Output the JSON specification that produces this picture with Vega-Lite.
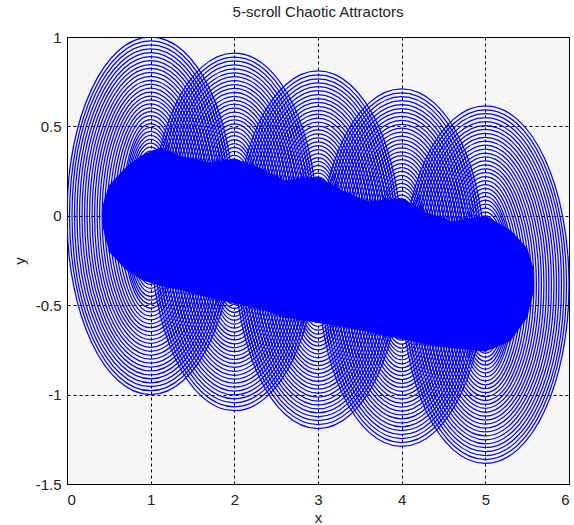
{
  "$schema": "https://vega.github.io/schema/vega-lite/v6.json",
  "autosize": {"type": "none"},
  "padding": {"left": 67, "top": 37, "right": 5, "bottom": 41},
  "width": 502,
  "height": 447,
  "background": "white",
  "title": {"text": "5-scroll Chaotic Attractors", "fontSize": 15, "font": "Liberation Sans", "fontWeight": "normal", "color": "#222222", "offset": 10},
  "config": {
    "view": {"fill": "#f6f6f6", "stroke": "#000000", "strokeWidth": 1},
    "axis": {
      "zindex": 1,
      "grid": true,
      "gridColor": "#000000",
      "gridOpacity": 1,
      "gridDash": [3, 3],
      "gridWidth": 1,
      "domain": false,
      "ticks": false,
      "labelFont": "Liberation Sans",
      "labelFontSize": 15,
      "labelColor": "#222222",
      "titleFont": "Liberation Sans",
      "titleFontSize": 15,
      "titleFontWeight": "normal",
      "titleColor": "#222222",
      "labelExpr": "'' + datum.value"
    }
  },
  "datasets": {
    "core": [
      {"x": 0.42, "lo": -0.05, "hi": 0.05},
      {"x": 0.5, "lo": -0.2, "hi": 0.17},
      {"x": 0.7, "lo": -0.3, "hi": 0.27},
      {"x": 0.9, "lo": -0.36, "hi": 0.34},
      {"x": 1.1, "lo": -0.39, "hi": 0.38},
      {"x": 1.4, "lo": -0.42, "hi": 0.33},
      {"x": 1.7, "lo": -0.46, "hi": 0.3},
      {"x": 2.0, "lo": -0.49, "hi": 0.32},
      {"x": 2.3, "lo": -0.52, "hi": 0.27},
      {"x": 2.6, "lo": -0.57, "hi": 0.2},
      {"x": 3.0, "lo": -0.6, "hi": 0.22},
      {"x": 3.3, "lo": -0.62, "hi": 0.14},
      {"x": 3.6, "lo": -0.65, "hi": 0.08},
      {"x": 4.0, "lo": -0.69, "hi": 0.1},
      {"x": 4.3, "lo": -0.72, "hi": 0.02},
      {"x": 4.6, "lo": -0.74, "hi": -0.03},
      {"x": 5.0, "lo": -0.76, "hi": 0.0},
      {"x": 5.3, "lo": -0.7, "hi": -0.08},
      {"x": 5.5, "lo": -0.57, "hi": -0.18},
      {"x": 5.58, "lo": -0.42, "hi": -0.3}
    ],
    "rings": [
      {"cx":1,"cy":0,"i":0,"b":1},{"cx":1,"cy":0,"i":1,"b":0.978},{"cx":1,"cy":0,"i":2,"b":0.956},{"cx":1,"cy":0,"i":3,"b":0.934},{"cx":1,"cy":0,"i":4,"b":0.912},{"cx":1,"cy":0,"i":5,"b":0.89},{"cx":1,"cy":0,"i":6,"b":0.868},{"cx":1,"cy":0,"i":7,"b":0.846},{"cx":1,"cy":0,"i":8,"b":0.824},{"cx":1,"cy":0,"i":9,"b":0.802},{"cx":1,"cy":0,"i":10,"b":0.78},{"cx":1,"cy":0,"i":11,"b":0.758},{"cx":1,"cy":0,"i":12,"b":0.736},{"cx":1,"cy":0,"i":13,"b":0.714},{"cx":1,"cy":0,"i":14,"b":0.692},{"cx":1,"cy":0,"i":15,"b":0.67},{"cx":1,"cy":0,"i":16,"b":0.648},{"cx":1,"cy":0,"i":17,"b":0.626},{"cx":1,"cy":0,"i":18,"b":0.604},{"cx":1,"cy":0,"i":19,"b":0.582},{"cx":1,"cy":0,"i":20,"b":0.56},{"cx":1,"cy":0,"i":21,"b":0.538},{"cx":1,"cy":0,"i":22,"b":0.516},{"cx":1,"cy":0,"i":23,"b":0.494},{"cx":1,"cy":0,"i":24,"b":0.472},{"cx":1,"cy":0,"i":25,"b":0.45},{"cx":1,"cy":0,"i":26,"b":0.428},{"cx":1,"cy":0,"i":27,"b":0.406},{"cx":1,"cy":0,"i":28,"b":0.384},{"cx":1,"cy":0,"i":29,"b":0.362},{"cx":1,"cy":0,"i":30,"b":0.34},{"cx":1,"cy":0,"i":31,"b":0.318},{"cx":1,"cy":0,"i":32,"b":0.296},{"cx":1,"cy":0,"i":33,"b":0.274},{"cx":1,"cy":0,"i":34,"b":0.252},{"cx":1,"cy":0,"i":35,"b":0.23},{"cx":1,"cy":0,"i":36,"b":0.208},{"cx":1,"cy":0,"i":37,"b":0.186},{"cx":1,"cy":0,"i":38,"b":0.164},{"cx":1,"cy":0,"i":39,"b":0.142},{"cx":1,"cy":0,"i":40,"b":0.12},
      {"cx":2,"cy":-0.09,"i":0,"b":1},{"cx":2,"cy":-0.09,"i":1,"b":0.978},{"cx":2,"cy":-0.09,"i":2,"b":0.956},{"cx":2,"cy":-0.09,"i":3,"b":0.934},{"cx":2,"cy":-0.09,"i":4,"b":0.912},{"cx":2,"cy":-0.09,"i":5,"b":0.89},{"cx":2,"cy":-0.09,"i":6,"b":0.868},{"cx":2,"cy":-0.09,"i":7,"b":0.846},{"cx":2,"cy":-0.09,"i":8,"b":0.824},{"cx":2,"cy":-0.09,"i":9,"b":0.802},{"cx":2,"cy":-0.09,"i":10,"b":0.78},{"cx":2,"cy":-0.09,"i":11,"b":0.758},{"cx":2,"cy":-0.09,"i":12,"b":0.736},{"cx":2,"cy":-0.09,"i":13,"b":0.714},{"cx":2,"cy":-0.09,"i":14,"b":0.692},{"cx":2,"cy":-0.09,"i":15,"b":0.67},{"cx":2,"cy":-0.09,"i":16,"b":0.648},{"cx":2,"cy":-0.09,"i":17,"b":0.626},{"cx":2,"cy":-0.09,"i":18,"b":0.604},{"cx":2,"cy":-0.09,"i":19,"b":0.582},{"cx":2,"cy":-0.09,"i":20,"b":0.56},{"cx":2,"cy":-0.09,"i":21,"b":0.538},{"cx":2,"cy":-0.09,"i":22,"b":0.516},{"cx":2,"cy":-0.09,"i":23,"b":0.494},{"cx":2,"cy":-0.09,"i":24,"b":0.472},{"cx":2,"cy":-0.09,"i":25,"b":0.45},{"cx":2,"cy":-0.09,"i":26,"b":0.428},{"cx":2,"cy":-0.09,"i":27,"b":0.406},{"cx":2,"cy":-0.09,"i":28,"b":0.384},{"cx":2,"cy":-0.09,"i":29,"b":0.362},{"cx":2,"cy":-0.09,"i":30,"b":0.34},{"cx":2,"cy":-0.09,"i":31,"b":0.318},{"cx":2,"cy":-0.09,"i":32,"b":0.296},{"cx":2,"cy":-0.09,"i":33,"b":0.274},{"cx":2,"cy":-0.09,"i":34,"b":0.252},{"cx":2,"cy":-0.09,"i":35,"b":0.23},{"cx":2,"cy":-0.09,"i":36,"b":0.208},{"cx":2,"cy":-0.09,"i":37,"b":0.186},{"cx":2,"cy":-0.09,"i":38,"b":0.164},{"cx":2,"cy":-0.09,"i":39,"b":0.142},{"cx":2,"cy":-0.09,"i":40,"b":0.12},
      {"cx":3,"cy":-0.19,"i":0,"b":1},{"cx":3,"cy":-0.19,"i":1,"b":0.978},{"cx":3,"cy":-0.19,"i":2,"b":0.956},{"cx":3,"cy":-0.19,"i":3,"b":0.934},{"cx":3,"cy":-0.19,"i":4,"b":0.912},{"cx":3,"cy":-0.19,"i":5,"b":0.89},{"cx":3,"cy":-0.19,"i":6,"b":0.868},{"cx":3,"cy":-0.19,"i":7,"b":0.846},{"cx":3,"cy":-0.19,"i":8,"b":0.824},{"cx":3,"cy":-0.19,"i":9,"b":0.802},{"cx":3,"cy":-0.19,"i":10,"b":0.78},{"cx":3,"cy":-0.19,"i":11,"b":0.758},{"cx":3,"cy":-0.19,"i":12,"b":0.736},{"cx":3,"cy":-0.19,"i":13,"b":0.714},{"cx":3,"cy":-0.19,"i":14,"b":0.692},{"cx":3,"cy":-0.19,"i":15,"b":0.67},{"cx":3,"cy":-0.19,"i":16,"b":0.648},{"cx":3,"cy":-0.19,"i":17,"b":0.626},{"cx":3,"cy":-0.19,"i":18,"b":0.604},{"cx":3,"cy":-0.19,"i":19,"b":0.582},{"cx":3,"cy":-0.19,"i":20,"b":0.56},{"cx":3,"cy":-0.19,"i":21,"b":0.538},{"cx":3,"cy":-0.19,"i":22,"b":0.516},{"cx":3,"cy":-0.19,"i":23,"b":0.494},{"cx":3,"cy":-0.19,"i":24,"b":0.472},{"cx":3,"cy":-0.19,"i":25,"b":0.45},{"cx":3,"cy":-0.19,"i":26,"b":0.428},{"cx":3,"cy":-0.19,"i":27,"b":0.406},{"cx":3,"cy":-0.19,"i":28,"b":0.384},{"cx":3,"cy":-0.19,"i":29,"b":0.362},{"cx":3,"cy":-0.19,"i":30,"b":0.34},{"cx":3,"cy":-0.19,"i":31,"b":0.318},{"cx":3,"cy":-0.19,"i":32,"b":0.296},{"cx":3,"cy":-0.19,"i":33,"b":0.274},{"cx":3,"cy":-0.19,"i":34,"b":0.252},{"cx":3,"cy":-0.19,"i":35,"b":0.23},{"cx":3,"cy":-0.19,"i":36,"b":0.208},{"cx":3,"cy":-0.19,"i":37,"b":0.186},{"cx":3,"cy":-0.19,"i":38,"b":0.164},{"cx":3,"cy":-0.19,"i":39,"b":0.142},{"cx":3,"cy":-0.19,"i":40,"b":0.12},
      {"cx":4,"cy":-0.29,"i":0,"b":1},{"cx":4,"cy":-0.29,"i":1,"b":0.978},{"cx":4,"cy":-0.29,"i":2,"b":0.956},{"cx":4,"cy":-0.29,"i":3,"b":0.934},{"cx":4,"cy":-0.29,"i":4,"b":0.912},{"cx":4,"cy":-0.29,"i":5,"b":0.89},{"cx":4,"cy":-0.29,"i":6,"b":0.868},{"cx":4,"cy":-0.29,"i":7,"b":0.846},{"cx":4,"cy":-0.29,"i":8,"b":0.824},{"cx":4,"cy":-0.29,"i":9,"b":0.802},{"cx":4,"cy":-0.29,"i":10,"b":0.78},{"cx":4,"cy":-0.29,"i":11,"b":0.758},{"cx":4,"cy":-0.29,"i":12,"b":0.736},{"cx":4,"cy":-0.29,"i":13,"b":0.714},{"cx":4,"cy":-0.29,"i":14,"b":0.692},{"cx":4,"cy":-0.29,"i":15,"b":0.67},{"cx":4,"cy":-0.29,"i":16,"b":0.648},{"cx":4,"cy":-0.29,"i":17,"b":0.626},{"cx":4,"cy":-0.29,"i":18,"b":0.604},{"cx":4,"cy":-0.29,"i":19,"b":0.582},{"cx":4,"cy":-0.29,"i":20,"b":0.56},{"cx":4,"cy":-0.29,"i":21,"b":0.538},{"cx":4,"cy":-0.29,"i":22,"b":0.516},{"cx":4,"cy":-0.29,"i":23,"b":0.494},{"cx":4,"cy":-0.29,"i":24,"b":0.472},{"cx":4,"cy":-0.29,"i":25,"b":0.45},{"cx":4,"cy":-0.29,"i":26,"b":0.428},{"cx":4,"cy":-0.29,"i":27,"b":0.406},{"cx":4,"cy":-0.29,"i":28,"b":0.384},{"cx":4,"cy":-0.29,"i":29,"b":0.362},{"cx":4,"cy":-0.29,"i":30,"b":0.34},{"cx":4,"cy":-0.29,"i":31,"b":0.318},{"cx":4,"cy":-0.29,"i":32,"b":0.296},{"cx":4,"cy":-0.29,"i":33,"b":0.274},{"cx":4,"cy":-0.29,"i":34,"b":0.252},{"cx":4,"cy":-0.29,"i":35,"b":0.23},{"cx":4,"cy":-0.29,"i":36,"b":0.208},{"cx":4,"cy":-0.29,"i":37,"b":0.186},{"cx":4,"cy":-0.29,"i":38,"b":0.164},{"cx":4,"cy":-0.29,"i":39,"b":0.142},{"cx":4,"cy":-0.29,"i":40,"b":0.12},
      {"cx":5,"cy":-0.385,"i":0,"b":1},{"cx":5,"cy":-0.385,"i":1,"b":0.978},{"cx":5,"cy":-0.385,"i":2,"b":0.956},{"cx":5,"cy":-0.385,"i":3,"b":0.934},{"cx":5,"cy":-0.385,"i":4,"b":0.912},{"cx":5,"cy":-0.385,"i":5,"b":0.89},{"cx":5,"cy":-0.385,"i":6,"b":0.868},{"cx":5,"cy":-0.385,"i":7,"b":0.846},{"cx":5,"cy":-0.385,"i":8,"b":0.824},{"cx":5,"cy":-0.385,"i":9,"b":0.802},{"cx":5,"cy":-0.385,"i":10,"b":0.78},{"cx":5,"cy":-0.385,"i":11,"b":0.758},{"cx":5,"cy":-0.385,"i":12,"b":0.736},{"cx":5,"cy":-0.385,"i":13,"b":0.714},{"cx":5,"cy":-0.385,"i":14,"b":0.692},{"cx":5,"cy":-0.385,"i":15,"b":0.67},{"cx":5,"cy":-0.385,"i":16,"b":0.648},{"cx":5,"cy":-0.385,"i":17,"b":0.626},{"cx":5,"cy":-0.385,"i":18,"b":0.604},{"cx":5,"cy":-0.385,"i":19,"b":0.582},{"cx":5,"cy":-0.385,"i":20,"b":0.56},{"cx":5,"cy":-0.385,"i":21,"b":0.538},{"cx":5,"cy":-0.385,"i":22,"b":0.516},{"cx":5,"cy":-0.385,"i":23,"b":0.494},{"cx":5,"cy":-0.385,"i":24,"b":0.472},{"cx":5,"cy":-0.385,"i":25,"b":0.45},{"cx":5,"cy":-0.385,"i":26,"b":0.428},{"cx":5,"cy":-0.385,"i":27,"b":0.406},{"cx":5,"cy":-0.385,"i":28,"b":0.384},{"cx":5,"cy":-0.385,"i":29,"b":0.362},{"cx":5,"cy":-0.385,"i":30,"b":0.34},{"cx":5,"cy":-0.385,"i":31,"b":0.318},{"cx":5,"cy":-0.385,"i":32,"b":0.296},{"cx":5,"cy":-0.385,"i":33,"b":0.274},{"cx":5,"cy":-0.385,"i":34,"b":0.252},{"cx":5,"cy":-0.385,"i":35,"b":0.23},{"cx":5,"cy":-0.385,"i":36,"b":0.208},{"cx":5,"cy":-0.385,"i":37,"b":0.186},{"cx":5,"cy":-0.385,"i":38,"b":0.164},{"cx":5,"cy":-0.385,"i":39,"b":0.142},{"cx":5,"cy":-0.385,"i":40,"b":0.12}
    ]
  },
  "layer": [
    {
      "data": {"name": "core"},
      "mark": {"type": "area", "color": "#0000ff", "opacity": 1, "clip": true},
      "encoding": {
        "x": {"field": "x", "type": "quantitative", "scale": {"domain": [0, 6], "nice": false, "zero": false}, "axis": {"values": [0, 1, 2, 3, 4, 5, 6], "title": "x", "labelPadding": 8, "titlePadding": 3}},
        "y": {"field": "lo", "type": "quantitative", "scale": {"domain": [-1.5, 1], "nice": false, "zero": false}, "axis": {"values": [-1.5, -1, -0.5, 0, 0.5, 1], "title": "y", "labelPadding": 6, "titlePadding": 8}},
        "y2": {"field": "hi"}
      }
    },
    {
      "data": {"name": "rings"},
      "mark": {"type": "point", "filled": false, "color": "#0000ff", "strokeWidth": 1.25, "opacity": 1, "clip": true},
      "encoding": {
        "x": {"field": "cx", "type": "quantitative"},
        "y": {"field": "cy", "type": "quantitative"},
        "size": {"field": "b", "type": "quantitative", "scale": {"type": "pow", "exponent": 2, "domain": [0, 1], "range": [0, 127878]}, "legend": null},
        "shape": {"field": "i", "type": "nominal", "legend": null, "scale": {
          "domain": [0,1,2,3,4,5,6,7,8,9,10,11,12,13,14,15,16,17,18,19,20,21,22,23,24,25,26,27,28,29,30,31,32,33,34,35,36,37,38,39,40],
          "range": [
            "M0,-1A0.468,1 0 1,1 0,1A0.468,1 0 1,1 0,-1Z",
            "M0,-1A0.4642,1 0 1,1 0,1A0.4642,1 0 1,1 0,-1Z",
            "M0,-1A0.4602,1 0 1,1 0,1A0.4602,1 0 1,1 0,-1Z",
            "M0,-1A0.456,1 0 1,1 0,1A0.456,1 0 1,1 0,-1Z",
            "M0,-1A0.4516,1 0 1,1 0,1A0.4516,1 0 1,1 0,-1Z",
            "M0,-1A0.447,1 0 1,1 0,1A0.447,1 0 1,1 0,-1Z",
            "M0,-1A0.4421,1 0 1,1 0,1A0.4421,1 0 1,1 0,-1Z",
            "M0,-1A0.437,1 0 1,1 0,1A0.437,1 0 1,1 0,-1Z",
            "M0,-1A0.4316,1 0 1,1 0,1A0.4316,1 0 1,1 0,-1Z",
            "M0,-1A0.426,1 0 1,1 0,1A0.426,1 0 1,1 0,-1Z",
            "M0,-1A0.42,1 0 1,1 0,1A0.42,1 0 1,1 0,-1Z",
            "M0,-1A0.4137,1 0 1,1 0,1A0.4137,1 0 1,1 0,-1Z",
            "M0,-1A0.407,1 0 1,1 0,1A0.407,1 0 1,1 0,-1Z",
            "M0,-1A0.3998,1 0 1,1 0,1A0.3998,1 0 1,1 0,-1Z",
            "M0,-1A0.3923,1 0 1,1 0,1A0.3923,1 0 1,1 0,-1Z",
            "M0,-1A0.3842,1 0 1,1 0,1A0.3842,1 0 1,1 0,-1Z",
            "M0,-1A0.3756,1 0 1,1 0,1A0.3756,1 0 1,1 0,-1Z",
            "M0,-1A0.3663,1 0 1,1 0,1A0.3663,1 0 1,1 0,-1Z",
            "M0,-1A0.3564,1 0 1,1 0,1A0.3564,1 0 1,1 0,-1Z",
            "M0,-1A0.3458,1 0 1,1 0,1A0.3458,1 0 1,1 0,-1Z",
            "M0,-1A0.3343,1 0 1,1 0,1A0.3343,1 0 1,1 0,-1Z",
            "M0,-1A0.3219,1 0 1,1 0,1A0.3219,1 0 1,1 0,-1Z",
            "M0,-1A0.3084,1 0 1,1 0,1A0.3084,1 0 1,1 0,-1Z",
            "M0,-1A0.3084,1 0 1,1 0,1A0.3084,1 0 1,1 0,-1Z",
            "M0,-1A0.3084,1 0 1,1 0,1A0.3084,1 0 1,1 0,-1Z",
            "M0,-1A0.3084,1 0 1,1 0,1A0.3084,1 0 1,1 0,-1Z",
            "M0,-1A0.3084,1 0 1,1 0,1A0.3084,1 0 1,1 0,-1Z",
            "M0,-1A0.3084,1 0 1,1 0,1A0.3084,1 0 1,1 0,-1Z",
            "M0,-1A0.3084,1 0 1,1 0,1A0.3084,1 0 1,1 0,-1Z",
            "M0,-1A0.3084,1 0 1,1 0,1A0.3084,1 0 1,1 0,-1Z",
            "M0,-1A0.3084,1 0 1,1 0,1A0.3084,1 0 1,1 0,-1Z",
            "M0,-1A0.3084,1 0 1,1 0,1A0.3084,1 0 1,1 0,-1Z",
            "M0,-1A0.3084,1 0 1,1 0,1A0.3084,1 0 1,1 0,-1Z",
            "M0,-1A0.3084,1 0 1,1 0,1A0.3084,1 0 1,1 0,-1Z",
            "M0,-1A0.3084,1 0 1,1 0,1A0.3084,1 0 1,1 0,-1Z",
            "M0,-1A0.3084,1 0 1,1 0,1A0.3084,1 0 1,1 0,-1Z",
            "M0,-1A0.3084,1 0 1,1 0,1A0.3084,1 0 1,1 0,-1Z",
            "M0,-1A0.3084,1 0 1,1 0,1A0.3084,1 0 1,1 0,-1Z",
            "M0,-1A0.3084,1 0 1,1 0,1A0.3084,1 0 1,1 0,-1Z",
            "M0,-1A0.3084,1 0 1,1 0,1A0.3084,1 0 1,1 0,-1Z",
            "M0,-1A0.3084,1 0 1,1 0,1A0.3084,1 0 1,1 0,-1Z"
          ]}}
      }
    }
  ]
}
